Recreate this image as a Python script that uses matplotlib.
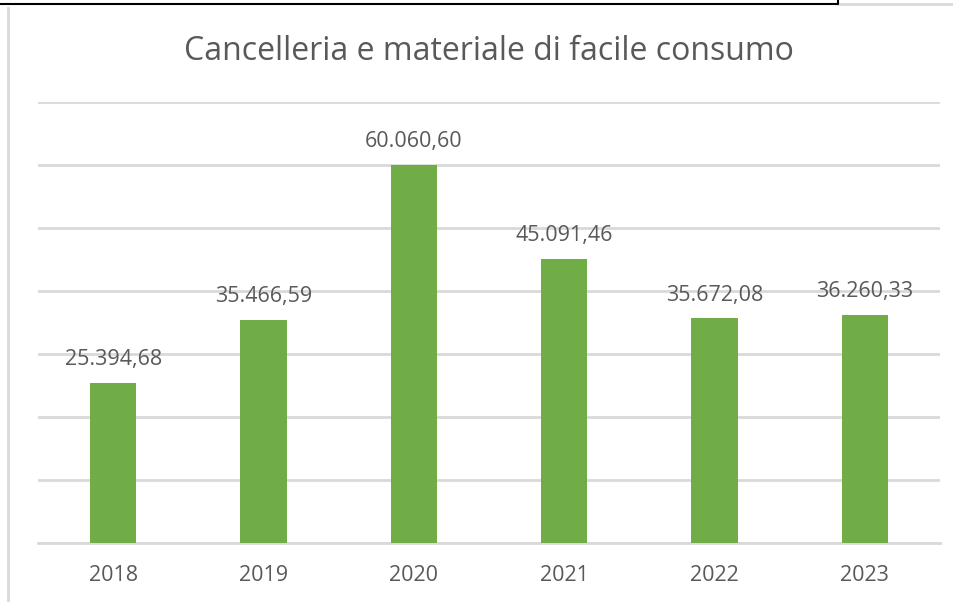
import matplotlib.pyplot as plt
from matplotlib.lines import Line2D

plt.rcParams['font.family'] = ['Open Sans', 'DejaVu Sans']

years = ['2018', '2019', '2020', '2021', '2022', '2023']
values = [25394.68, 35466.59, 60060.60, 45091.46, 35672.08, 36260.33]
labels = ['25.394,68', '35.466,59', '60.060,60', '45.091,46', '35.672,08', '36.260,33']

fig = plt.figure(figsize=(9.54, 6.02), dpi=100)
ax = fig.add_axes([38 / 954, 1 - 543 / 602, 902 / 954, 441 / 602])

x = range(len(years))
ax.bar(x, values, width=0.31, color='#70AD47', zorder=3)
for i, v in enumerate(values):
    ax.text(i, v + 2000, labels[i], ha='center', va='bottom', fontsize=15.5, color='#595959')

ax.set_xlim(-0.5, len(years) - 0.5)
ax.set_ylim(0, 70000)
ax.set_yticks(range(0, 70001, 10000))
ax.yaxis.grid(True, color='#D9D9D9', linewidth=2)
ax.set_yticklabels([])
ax.tick_params(axis='y', length=0)
ax.set_xticks(list(x))
ax.set_xticklabels(years, fontsize=15.5, color='#595959')
ax.tick_params(axis='x', length=0, pad=16)
for s in ['top', 'right', 'left']:
    ax.spines[s].set_visible(False)
ax.spines['bottom'].set_color('#D9D9D9')
ax.spines['bottom'].set_linewidth(2)

fig.text(0.513, 1 - 51 / 602, 'Cancelleria e materiale di facile consumo',
         ha='center', va='center', fontsize=23, color='#595959')

# page borders
fig.add_artist(Line2D([8 / 954, 8 / 954], [0, 1 - 8 / 602], color='#D9D9D9', lw=2))
fig.add_artist(Line2D([838 / 954, 1], [1 - 4 / 602, 1 - 4 / 602], color='#D9D9D9', lw=2))
fig.add_artist(Line2D([0, 838 / 954, 838 / 954], [1 - 4 / 602, 1 - 4 / 602, 1], color='black', lw=1.5))

fig.savefig('out.png', dpi=100)
